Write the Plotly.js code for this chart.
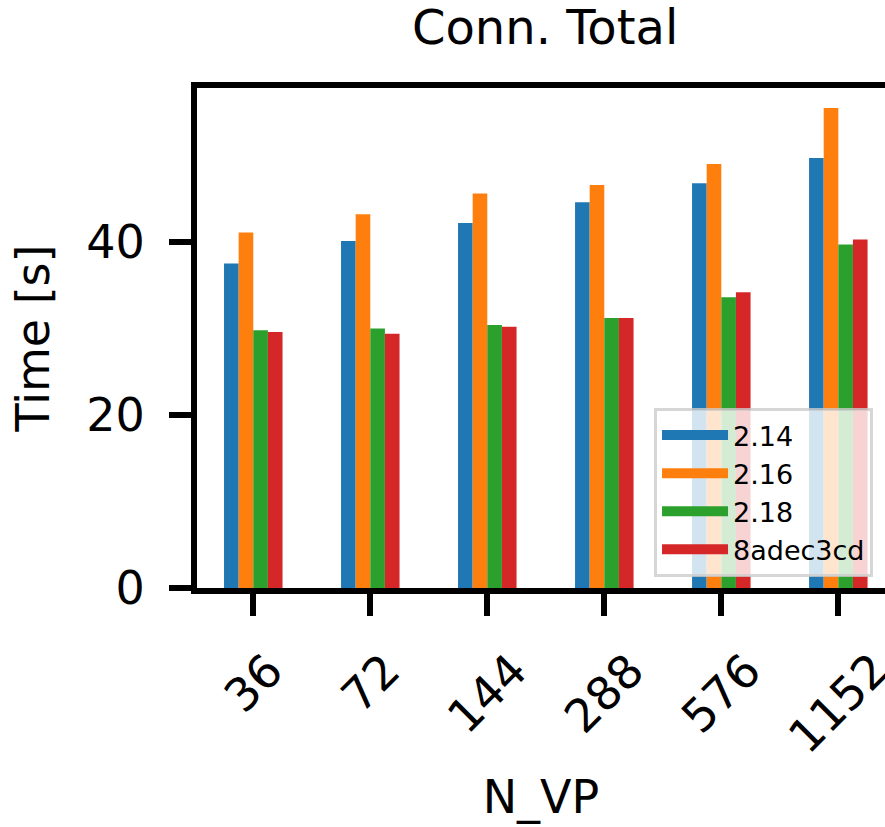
<!DOCTYPE html>
<html>
<head>
<meta charset="utf-8">
<script src="https://cdn.plot.ly/plotly-3.0.1.min.js"></script>
<style>
  html, body { margin: 0; padding: 0; background: #ffffff; overflow: hidden; }
  #chart { width: 885px; height: 827px; }
</style>
</head>
<body>
<div id="chart"></div>
<script>
// ---- data ----
const categories = ["36", "72", "144", "288", "576", "1152"];
const seriesNames = ["2.14", "2.16", "2.18", "8adec3cd"];
const v214 = [37.5, 40.1, 42.2, 44.6, 46.8, 49.7];
const v216 = [41.1, 43.2, 45.6, 46.6, 49.0, 55.5];
const v218 = [29.8, 30.0, 30.4, 31.2, 33.6, 39.7];
const v8adec = [29.6, 29.4, 30.2, 31.2, 34.2, 40.3];
const yTickVals = [0, 20, 40];
const yTickText = ["0", "20", "40"];
const colors = ["#1f77b4", "#ff7f0e", "#2ca02c", "#d62728"];

const seriesValues = [v214, v216, v218, v8adec];
const FONT = "DejaVu Sans";

const traces = [];
seriesValues.forEach((vals, i) => {
  traces.push({
    type: "bar",
    x: categories,
    y: vals,
    name: seriesNames[i],
    marker: { color: colors[i], line: { width: 0 } },
    showlegend: false,
    hoverinfo: "skip"
  });
});
// legend entries (wide swatches like matplotlib)
seriesValues.forEach((vals, i) => {
  traces.push({
    type: "scatter",
    mode: "lines",
    x: [null],
    y: [null],
    name: seriesNames[i],
    line: { color: colors[i], width: 20 },
    showlegend: true,
    hoverinfo: "skip"
  });
});

// rotated tick labels centred under ticks (matplotlib style); x is the category index
const tickAnnotations = categories.map((c, i) => ({
  x: i,
  xref: "x",
  y: -0.104,
  yref: "paper",
  text: c,
  showarrow: false,
  textangle: -45,
  xanchor: "center",
  yanchor: "top",
  font: { family: FONT, size: 46, color: "#000000" }
}));

const layout = {
  width: 885,
  height: 827,
  margin: { l: 196.5, r: 0, t: 88, b: 239, pad: 0 },
  paper_bgcolor: "#ffffff",
  plot_bgcolor: "#ffffff",
  font: { family: FONT, color: "#000000" },
  barmode: "group",
  bargap: 0.5,
  bargroupgap: 0,
  title: {
    text: "Conn. Total",
    font: { family: FONT, size: 48, color: "#000000" },
    x: 0.506,
    xref: "paper",
    xanchor: "center",
    y: 1 - 10 / 827,
    yref: "container",
    yanchor: "top"
  },
  xaxis: {
    type: "category",
    range: [-0.481, 5.399],
    showline: true,
    linewidth: 6,
    linecolor: "#000000",
    mirror: true,
    ticks: "outside",
    ticklen: 22,
    tickwidth: 6,
    tickcolor: "#000000",
    showticklabels: false,
    showgrid: false,
    zeroline: false,
    fixedrange: true,
    title: {
      text: "N_VP",
      font: { family: FONT, size: 46, color: "#000000" },
      standoff: 168
    }
  },
  yaxis: {
    range: [0, 57.8],
    showline: true,
    linewidth: 6,
    linecolor: "#000000",
    mirror: false,
    ticks: "outside",
    ticklen: 22,
    tickwidth: 6,
    tickcolor: "#000000",
    tickvals: yTickVals,
    ticktext: yTickText,
    tickfont: { family: FONT, size: 46, color: "#000000" },
    ticklabelstandoff: 15,
    showgrid: false,
    zeroline: false,
    fixedrange: true,
    title: {
      text: "Time [s]",
      font: { family: FONT, size: 46, color: "#000000" },
      standoff: 24
    }
  },
  legend: {
    x: 0.9826,
    xanchor: "right",
    y: 0.022,
    yanchor: "bottom",
    bgcolor: "rgba(255,255,255,0.8)",
    bordercolor: "rgba(204,204,204,0.8)",
    borderwidth: 3,
    font: { family: FONT, size: 27, color: "#000000" },
    itemwidth: 66,
    tracegroupgap: 0
  },
  annotations: tickAnnotations
};

Plotly.newPlot("chart", traces, layout, { displayModeBar: false, staticPlot: true });
</script>
</body>
</html>
